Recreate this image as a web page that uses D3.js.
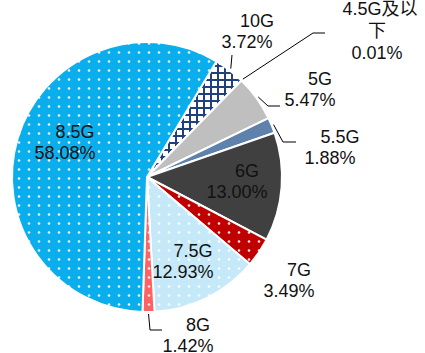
<!DOCTYPE html>
<html lang="zh">
<head>
    <meta charset="UTF-8">
    <title>Pie</title>
    <script src="https://d3js.org/d3.v7.min.js"></script>
    <style>
        body { margin: 0; background: #fff; }
        .lbl {
            font-family: "Liberation Sans", Arial, "Noto Sans CJK SC", sans-serif;
            font-size: 18px;
            fill: #111;
            text-anchor: middle;
            dominant-baseline: central;
        }
    </style>
</head>
<body>
<svg width="425" height="353"></svg>
<script>
    const width = 425;
    const height = 353;

    // data
    const categories = ["10G", "4.5G及以下", "5G", "5.5G", "6G", "7G", "7.5G", "8G", "8.5G"];
    const shares = [3.72, 0.01, 5.47, 1.88, 13.00, 3.49, 12.93, 1.42, 58.08];
    const valueLabels = ["3.72%", "0.01%", "5.47%", "1.88%", "13.00%", "3.49%", "12.93%", "1.42%", "58.08%"];

    // style / layout
    const colors = ["#ffffff", "#7f7f7f", "#bfbfbf", "#5f82ad", "#404040", "#c00000", "#c5e9f9", "#ff6262", "#0aaeec"];
    const fills = ["url(#grid)", null, null, null, null, "url(#dots-red)", "url(#dots-pale)", "url(#dots-pink)", "url(#dots-blue)"];
    // label centre (second line) for each slice
    const labelPos = [[247, 42], [377, 53], [310, 100], [330, 158], [237, 192], [289, 291], [183, 272], [188, 346], [65, 153]];
    // elbow points for leader lines (null = no leader)
    const leaders = [[[232, 55]], [[313, 33], [325, 33]], [[268, 106], [280, 106]], [[283, 142], [296, 142]], null, null, null, [[150, 330], [162, 330]], null];

    const cx = 147, cy = 177, radius = 135;
    const start = 31 * Math.PI / 180;

    const svg = d3.select("svg");
    const defs = svg.append("defs");

    function dotPattern(id, bg) {
        const p = defs.append("pattern").attr("id", id)
            .attr("patternUnits", "userSpaceOnUse")
            .attr("width", 10).attr("height", 9)
            .attr("x", cx).attr("y", cy);
        p.append("rect").attr("width", 10).attr("height", 9).attr("fill", bg);
        p.append("circle").attr("cx", 5).attr("cy", 4.5).attr("r", 1.3).attr("fill", "#fff").attr("opacity", 0.9);
    }
    dotPattern("dots-blue", colors[8]);
    dotPattern("dots-pink", colors[7]);
    dotPattern("dots-pale", colors[6]);
    dotPattern("dots-red", colors[5]);

    const grid = defs.append("pattern").attr("id", "grid")
        .attr("patternUnits", "userSpaceOnUse")
        .attr("width", 7).attr("height", 7);
    grid.append("rect").attr("width", 7).attr("height", 7).attr("fill", "#fff");
    grid.append("path").attr("d", "M0,1H7M1,0V7").attr("stroke", "#1f3f7f").attr("stroke-width", 2);

    const pie = d3.pie().sort(null).value(d => d)
        .startAngle(start).endAngle(start + 2 * Math.PI);
    const arcs = pie(shares);

    const arc = d3.arc().innerRadius(0).outerRadius(radius);

    const g = svg.append("g").attr("transform", `translate(${cx},${cy})`);
    g.selectAll("path")
        .data(arcs)
        .enter().append("path")
        .attr("d", arc)
        .attr("fill", (d, i) => fills[i] || colors[i])
        .attr("stroke", "#fff")
        .attr("stroke-width", 2)
        .attr("stroke-linejoin", "round");

    // leader lines
    const edge = d3.arc().innerRadius(radius + 2).outerRadius(radius + 2);
    arcs.forEach((d, i) => {
        if (!leaders[i]) return;
        const c = edge.centroid(d);
        const pts = [[cx + c[0], cy + c[1]]].concat(leaders[i]);
        svg.append("path")
            .attr("d", d3.line()(pts))
            .attr("fill", "none")
            .attr("stroke", "#000")
            .attr("stroke-width", 1);
    });

    // labels
    arcs.forEach((d, i) => {
        const [x, y] = labelPos[i];
        let lines = [categories[i], valueLabels[i]];
        let offs = [10, 0];
        if (i === 1) { lines = ["4.5G及以", "下", valueLabels[i]]; offs = [3, 0, 0]; }
        const t = svg.append("text").attr("class", "lbl");
        lines.forEach((s, k) => {
            t.append("tspan")
                .attr("x", x + offs[k])
                .attr("y", y - (lines.length - 1 - k) * (i === 1 ? 22 : 21))
                .text(s);
        });
    });
</script>
</body>
</html>
